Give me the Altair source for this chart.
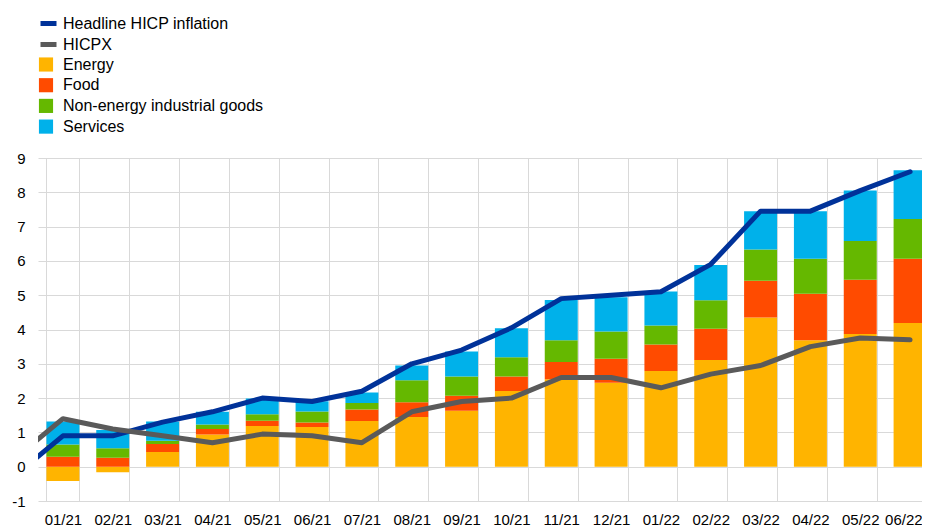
import altair as alt
import pandas as pd

# ---- data ----
months = ["01/21", "02/21", "03/21", "04/21", "05/21", "06/21", "07/21", "08/21", "09/21",
          "10/21", "11/21", "12/21", "01/22", "02/22", "03/22", "04/22", "05/22", "06/22"]

energy = [-0.42, -0.16, 0.43, 0.94, 1.19, 1.16, 1.33, 1.45, 1.63,
          2.21, 2.55, 2.45, 2.79, 3.11, 4.35, 3.69, 3.87, 4.19]
food = [0.29, 0.26, 0.23, 0.16, 0.15, 0.13, 0.34, 0.43, 0.44,
        0.42, 0.50, 0.70, 0.77, 0.91, 1.07, 1.35, 1.58, 1.87]
neig = [0.36, 0.28, 0.10, 0.13, 0.19, 0.32, 0.19, 0.64, 0.56,
        0.56, 0.64, 0.79, 0.56, 0.83, 0.91, 1.02, 1.13, 1.16]
services = [0.67, 0.53, 0.56, 0.37, 0.46, 0.30, 0.30, 0.43, 0.73,
            0.85, 1.17, 1.00, 0.99, 1.03, 1.12, 1.39, 1.47, 1.42]

# lines include the previous month (12/20), clipped at the plot edge
line_months = ["12/20"] + months
headline = [-0.3, 0.9, 0.9, 1.3, 1.6, 2.0, 1.9, 2.2, 3.0, 3.4,
            4.05, 4.9, 5.0, 5.1, 5.9, 7.45, 7.45, 8.05, 8.6]
hicpx = [0.2, 1.4, 1.1, 0.9, 0.7, 0.95, 0.9, 0.7, 1.6, 1.9,
         2.0, 2.6, 2.6, 2.3, 2.7, 2.95, 3.5, 3.75, 3.7]

components = ["Energy", "Food", "Non-energy industrial goods", "Services"]
comp_colors = ["#ffb400", "#ff4b00", "#65b800", "#00b1ea"]
series = ["Headline HICP inflation", "HICPX"]
series_colors = ["#003299", "#5a5a5a"]

y_ticks = list(range(-1, 10))

# ---- tables ----
rows = []
for i, m in enumerate(months):
    for k, (name, vals) in enumerate(zip(components, [energy, food, neig, services])):
        rows.append({"month": m, "component": name, "order": k, "value": vals[i]})
bars_df = pd.DataFrame(rows)

lrows = []
for i, m in enumerate(line_months):
    for name, vals in zip(series, [headline, hicpx]):
        lrows.append({"pos": i - 1, "month": m, "series": name, "value": vals[i]})
line_df = pd.DataFrame(lrows)

FONT = "Liberation Sans"
GRID = "#d9d9d9"
XRANGE = [0, 897]  # 18 bands; the last one runs past the right edge of the page
last = months[-1]


def yscale():
    return alt.Scale(domain=[-1, 9], nice=False, zero=False)


def yaxis():
    return alt.Axis(title=None, values=y_ticks, tickCount=11, grid=True,
                    gridColor=GRID, ticks=False, domain=False, labelPadding=13,
                    labelFontSize=15, labelFont=FONT, labelColor="#000000",
                    labelOverlap=False,
                    labelExpr="datum.value < 0 ? '-' + abs(datum.value) : '' + datum.value")


bars = alt.Chart(bars_df).mark_bar().encode(
    x=alt.X("month:N", sort=months,
            scale=alt.Scale(domain=months, paddingInner=0.338, paddingOuter=0.169,
                            range=XRANGE),
            axis=alt.Axis(title=None, labelAngle=0, tickBand="extent", grid=True,
                          gridColor=GRID, ticks=False, domain=False,
                          labelPadding=11, labelFontSize=15, labelFont=FONT,
                          labelColor="#000000", labelOverlap=False,
                          labelAlign={"condition": {"test": f"datum.value == '{last}'",
                                                    "value": "right"},
                                      "value": "center"},
                          labelOffset={"condition": {"test": f"datum.value == '{last}'",
                                                     "value": 12},
                                       "value": 0})),
    y=alt.Y("value:Q", stack="zero", scale=yscale(), axis=yaxis()),
    color=alt.Color("component:N",
                    scale=alt.Scale(domain=components, range=comp_colors),
                    legend=alt.Legend(title=None, orient="none", legendX=0, legendY=-101.5,
                                      symbolType="square", symbolSize=200,
                                      symbolStrokeWidth=0, labelFontSize=16,
                                      labelFont=FONT, labelColor="#000000",
                                      labelOffset=9, rowPadding=4.7, padding=0,
                                      labelLimit=500)),
    order=alt.Order("order:Q"),
)

lines = alt.Chart(line_df).mark_line(strokeWidth=5, strokeCap="round",
                                     strokeJoin="round", clip=True).encode(
    x=alt.X("pos:Q", scale=alt.Scale(domain=[-0.5, 17.5], nice=False, zero=False,
                                     range=XRANGE),
            axis=None),
    y=alt.Y("value:Q", scale=yscale(), axis=yaxis()),
    color=alt.Color("series:N",
                    scale=alt.Scale(domain=series, range=series_colors),
                    legend=alt.Legend(title=None, orient="none", legendX=0, legendY=-145,
                                      symbolType="stroke", symbolSize=256,
                                      symbolStrokeWidth=5, labelFontSize=16,
                                      labelFont=FONT, labelColor="#000000",
                                      labelOffset=4, rowPadding=-1.5, padding=0,
                                      labelLimit=500)),
)

chart = alt.layer(bars, lines).resolve_scale(
    x="independent", color="independent"
).properties(
    width=884, height=343,
    autosize=alt.AutoSizeParams(type="none"),
    padding={"left": 30, "top": 150, "right": 0, "bottom": 26},
    background="white",
).configure_view(stroke=None)

chart.save("out.html", embed_options={"renderer": "svg", "actions": False})
